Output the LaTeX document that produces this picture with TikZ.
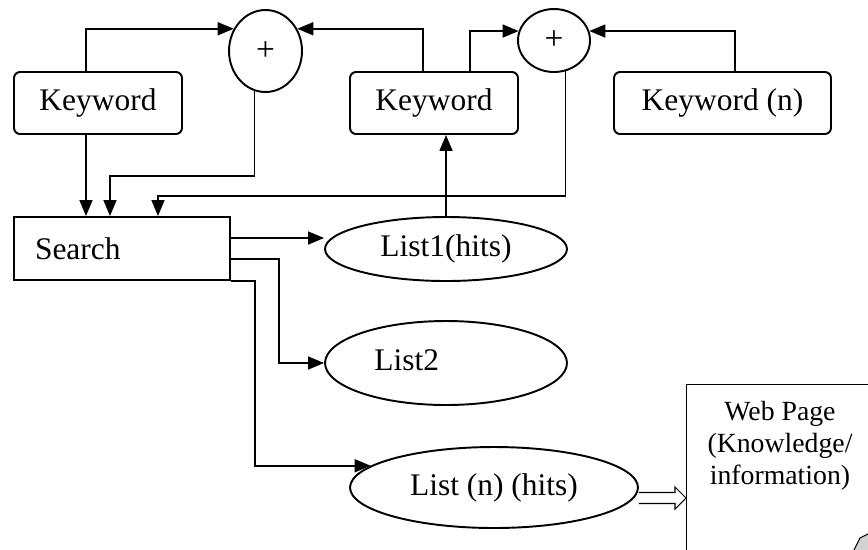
\documentclass[tikz,border=0pt]{standalone}
\usepackage{fontspec}
\setmainfont{Liberation Serif}
\usetikzlibrary{shapes.geometric,arrows.meta,calc}
\newcommand\bigtxt{\fontsize{17.9pt}{21pt}\selectfont}
\newcommand\webtxt{\fontsize{15.8pt}{18.2pt}\selectfont}
\newcommand\plustxt{\fontsize{19pt}{21pt}\selectfont}
\begin{document}
\begin{tikzpicture}[x=0.02cm,y=-0.02cm]
		\tikzstyle{box} = [draw, rounded corners=0.12cm, line width=1.1pt, minimum height=1.24cm, font=\bigtxt, inner sep=0]
		\tikzstyle{sum} = [draw, ellipse, line width=1.1pt, font=\plustxt, inner sep=0]
		\tikzstyle{list} = [draw, ellipse, line width=1.1pt, font=\bigtxt, inner sep=0]
		\tikzstyle{arr} = [-{Triangle[length=0.32cm,width=0.26cm]}, line width=0.85pt]
		\tikzstyle{hollow} = [line width=0.6pt, line join=miter]
		\useasboundingbox (0,0) rectangle (868,549);
		\clip (0,0) rectangle (868,549);
		
		\node [box, minimum width=3.36cm] (k1) at (98,103) {Keyword};
		\node [box, minimum width=3.36cm] (k2) at (434,103) {Keyword};
		\node [box, minimum width=4.34cm] (kn) at (722.5,103) {Keyword (n)};
		\node [sum, minimum width=1.46cm, minimum height=1.64cm] (c1) at (265.5,51) {+};
		\node [sum, minimum width=1.44cm, minimum height=1.26cm] (c2) at (554,40.5) {+};
		\node [draw, line width=1.1pt, minimum width=4.32cm, minimum height=1.26cm, font=\bigtxt, text width=3.48cm, inner xsep=0.42cm, align=left] (search) at (122,248.5) {Search};
		\node [list, minimum width=4.84cm, minimum height=1.28cm] (list1) at (446,249) {List1(hits)};
		\node [list, minimum width=4.84cm, minimum height=1.68cm] (list2) at (446,363) {};
		\node [font=\bigtxt, anchor=west, inner sep=0] (list2txt) at ($(list2.west)+(50,-3)$) {List2};
		\node [list, minimum width=5.76cm, minimum height=1.62cm] (listn) at (494,487.5) {List (n) (hits)};
		\node [draw, line width=0.6pt, minimum width=4cm, minimum height=4cm, anchor=north west] (web) at (686,384) {};
		\node [font=\webtxt, align=center] (webtext) at (780,446) {Web Page\\(Knowledge/\\information)};
		
		% keywords into the sums
		\draw [arr] ($(k1.north)+(-12,0)$) |- (c1.145);
		\draw [arr] ($(k2.north)+(-11,0)$) |- (c1.35);
		\draw [arr] ($(k2.north)+(36,0)$) |- (c2.165);
		\draw [arr] ($(kn.north)+(12.5,0)$) |- (c2.15);
		
		% into search
		\draw [arr] ($(k1.south)+(-12,0)$) -- ($(search.north)+(-36,0)$);
		\draw [arr] (c1.-105) |- ($(search.north)+(-12,-40)$) -- ($(search.north)+(-12,0)$);
		\draw [arr] (c2.-70) |- ($(search.north)+(36,-20)$) -- ($(search.north)+(36,0)$);
		\draw [arr] (list1.north) -- (list1.north |- k2.south);
		
		% search out to the lists
		\coordinate (s1) at ($(search.east)+(0,-10.5)$);
		\coordinate (s2) at ($(search.east)+(0,10.5)$);
		\draw [arr] (s1) -- (s1 -| list1.west);
		\draw [arr] (s2) -- ++(48,0) |- (list2.west);
		\draw [arr] (search.south east) -- ++(24,0) |- (listn.170.6);
		
		% block arrow to the page
		\coordinate (h0) at ($(listn.east)+(0,10.5)$);
		\coordinate (h1) at (web.west |- h0);
		\draw [hollow] ($(h0)+(0,-5.5)$) -- ($(h1)+(-11,-5.5)$) -- ($(h1)+(-11,-11)$) -- (h1) -- ($(h1)+(-11,11)$) -- ($(h1)+(-11,5.5)$) -- ($(h0)+(0,5.5)$);
		\filldraw [fill=gray!35, line width=0.6pt] (853,552) -- (860,538) -- (872,532) -- (872,552) -- cycle;
\end{tikzpicture}
\end{document}
